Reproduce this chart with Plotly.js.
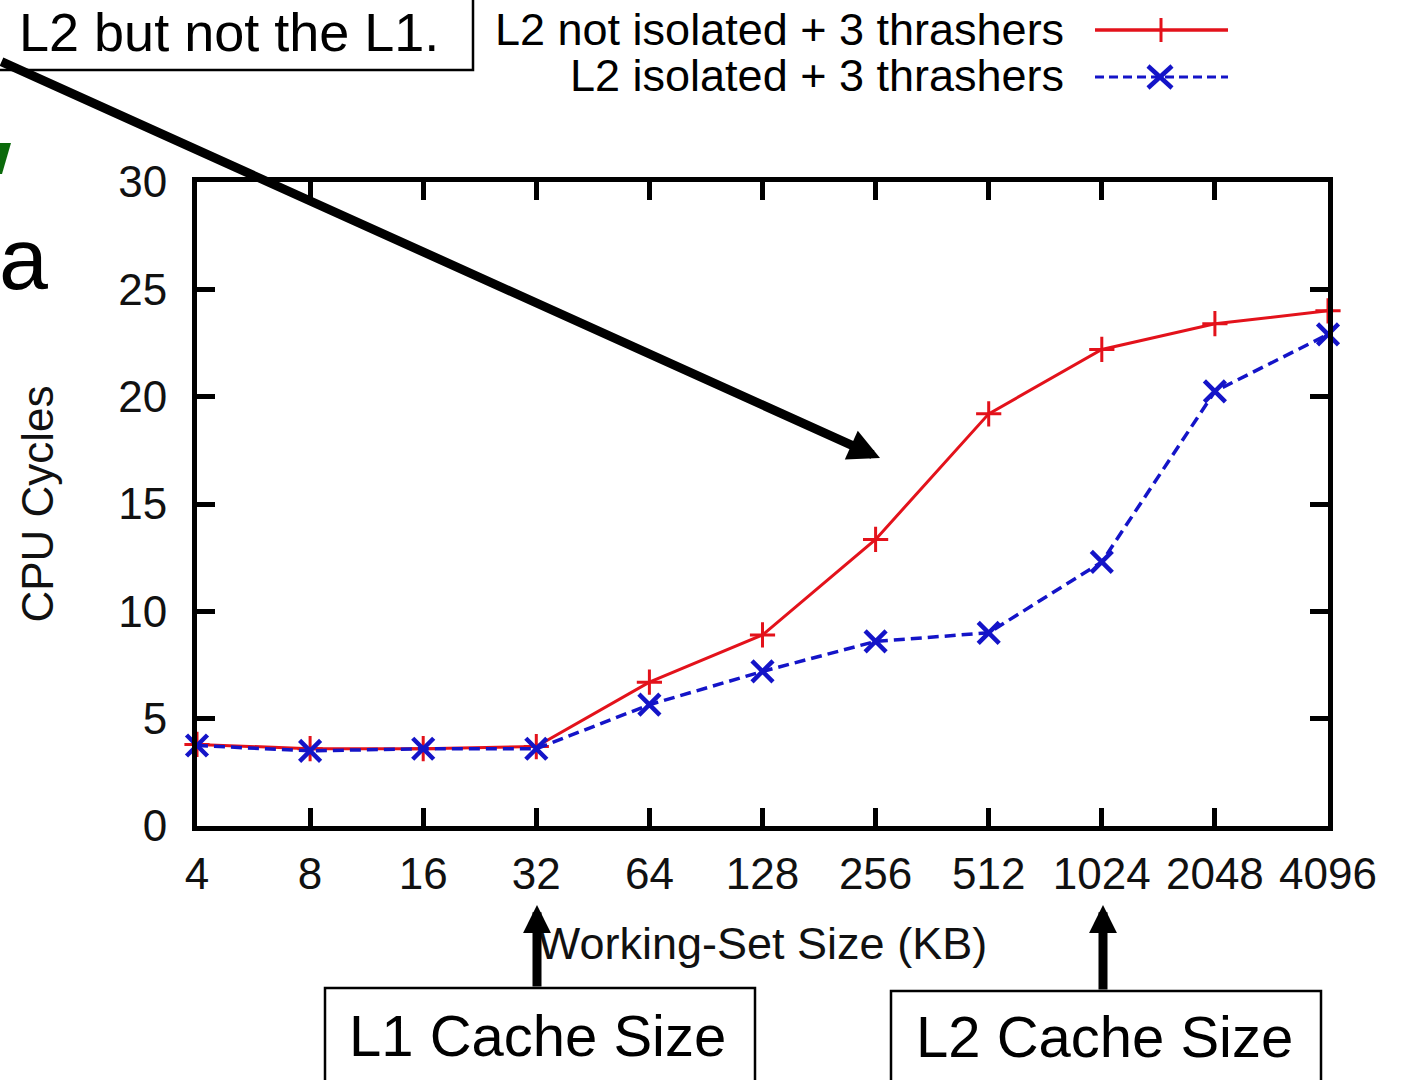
<!DOCTYPE html>
<html><head><meta charset="utf-8">
<script src="https://cdn.plot.ly/plotly-3.0.1.min.js"></script>
<style>html,body{margin:0;padding:0;background:#fff;overflow:hidden}#chart{width:1407px;height:1080px}</style>
</head><body><div id="chart"></div>
<script>
// ---- data ----
const sizesKB = ['4','8','16','32','64','128','256','512','1024','2048','4096'];
const notIsolated = [3.8, 3.6, 3.6, 3.7, 6.7, 8.9, 13.35, 19.2, 22.2, 23.4, 24.0];
const isolated    = [3.75, 3.5, 3.6, 3.6, 5.65, 7.2, 8.6, 9.0, 12.3, 20.25, 22.9];
const seriesNames = ['L2 not isolated + 3 thrashers', 'L2 isolated + 3 thrashers'];
const yTicks = [0, 5, 10, 15, 20, 25, 30];

// ---- layout helpers (pixel -> paper) ----
const W = 1407, H = 1080, ML = 197, MR = 79, MT = 182, MB = 254;
const PW = W - ML - MR, PH = H - MT - MB;
const fx = p => (p - ML) / PW;
const fy = p => (H - MB - p) / PH;

const RED = '#e3121b', BLUE = '#1414c8', GREEN = '#0b6a0b';
const FONT = 'Liberation Sans, Arial, Helvetica, sans-serif';

const traces = [
  { x: sizesKB, y: notIsolated, name: seriesNames[0], type: 'scatter', mode: 'lines+markers',
    line: { color: RED, width: 3 },
    marker: { symbol: 'cross-thin-open', size: 18, color: RED, line: { color: RED, width: 3 } },
    cliponaxis: false, showlegend: false },
  { x: sizesKB, y: isolated, name: seriesNames[1], type: 'scatter', mode: 'lines+markers',
    line: { color: BLUE, width: 3.5, dash: '11px,6px' },
    marker: { symbol: 'x-thin-open', size: 21, color: BLUE, line: { color: BLUE, width: 4.5 } },
    cliponaxis: false, showlegend: false }
];

function seg(x0, y0, x1, y1, color, width, dash) {
  return { type: 'line', xref: 'paper', yref: 'paper', x0: fx(x0), y0: fy(y0), x1: fx(x1), y1: fy(y1),
           line: { color: color, width: width, dash: dash || 'solid' } };
}
function rect(x0, y0, x1, y1) {
  return { type: 'rect', xref: 'paper', yref: 'paper', x0: fx(x0), y0: fy(y0), x1: fx(x1), y1: fy(y1),
           line: { color: '#000', width: 2.5 }, fillcolor: 'rgba(0,0,0,0)' };
}

const shapes = [
  rect(-10, -10, 473, 70),
  rect(325, 988, 755, 1095),
  rect(891, 991, 1321, 1095),
  // legend keys
  seg(1095, 30, 1228, 30, RED, 3.5),
  seg(1161, 18, 1161, 42, RED, 3),
  seg(1095, 77, 1228, 77, BLUE, 3, '9px,5px'),
  seg(1148, 66, 1172, 88, BLUE, 4.5),
  seg(1148, 88, 1172, 66, BLUE, 4.5),
  // green fragment at left edge
  { type: 'path', xref: 'paper', yref: 'paper',
    path: `M ${fx(0)} ${fy(143)} L ${fx(11)} ${fy(143)} L ${fx(2)} ${fy(174)} L ${fx(0)} ${fy(174)} Z`,
    fillcolor: GREEN, line: { width: 0 } }
];

function txt(text, x, y, size, xanchor) {
  return { text: text, xref: 'paper', yref: 'paper', x: fx(x), y: fy(y), showarrow: false,
           xanchor: xanchor || 'center', yanchor: 'middle', font: { family: FONT, size: size, color: '#000' } };
}
function arrow(hx, hy, tx, ty, size, w) {
  return { text: '', xref: 'paper', yref: 'paper', x: fx(hx), y: fy(hy), showarrow: true,
           ax: tx - hx, ay: ty - hy, arrowhead: 2, arrowsize: size, arrowwidth: w, arrowcolor: '#000', standoff: 0 };
}

const annotations = [
  txt('L2 but not the L1.', 441, 32, 54, 'right'),
  txt('a', -3, 258, 88, 'left'),
  txt(seriesNames[0], 1066, 29, 45, 'right'),
  txt(seriesNames[1], 1066, 76, 45, 'right'),
  txt('L1 Cache Size', 537, 1035, 58, 'center'),
  txt('L2 Cache Size', 1104, 1036, 58, 'center'),
  arrow(880, 458, -20, 61, 0.7, 9),
  arrow(537, 905, 537, 988, 0.62, 9),
  arrow(1103, 905, 1103, 991, 0.62, 9)
];

const layout = {
  width: W, height: H,
  margin: { l: ML, r: MR, t: MT, b: MB, pad: 0 },
  paper_bgcolor: '#fff', plot_bgcolor: '#fff',
  font: { family: FONT, color: '#111' },
  showlegend: false,
  xaxis: {
    type: 'category', range: [0, 10], tickangle: 0,
    showline: true, linecolor: '#000', linewidth: 5, mirror: 'allticks',
    ticks: 'inside', ticklen: 18, tickwidth: 5, tickcolor: '#000',
    showgrid: false, zeroline: false,
    tickfont: { family: FONT, size: 44, color: '#111' }, ticklabelstandoff: 5,
    title: { text: 'Working-Set Size (KB)', font: { family: FONT, size: 45, color: '#111' }, standoff: 32 },
    automargin: true
  },
  yaxis: {
    range: [0, 30], tickvals: yTicks,
    showline: true, linecolor: '#000', linewidth: 5, mirror: 'allticks',
    ticks: 'inside', ticklen: 18, tickwidth: 5, tickcolor: '#000',
    showgrid: false, zeroline: false,
    tickfont: { family: FONT, size: 44, color: '#111' }, ticklabelstandoff: 16,
    title: { text: 'CPU Cycles', font: { family: FONT, size: 44, color: '#111' }, standoff: 52 },
    automargin: true
  },
  shapes: shapes,
  annotations: annotations
};

Plotly.newPlot('chart', traces, layout, { displayModeBar: false, staticPlot: true });
</script></body></html>
